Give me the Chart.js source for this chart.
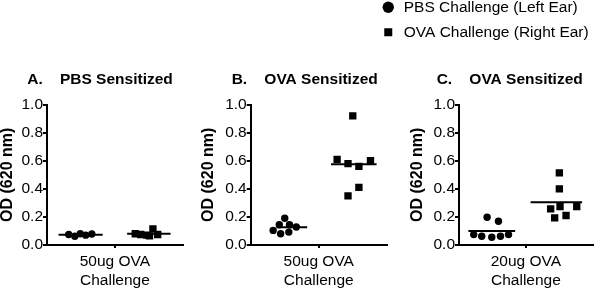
<!DOCTYPE html>
<html>
<head>
<meta charset="utf-8">
<script src="https://cdn.jsdelivr.net/npm/chart.js@4.4.1/dist/chart.umd.min.js"></script>
<style>
  body { margin: 0; background: #fff; overflow: hidden; width: 600px; height: 291px; position: relative; }
  canvas { position: absolute; }
</style>
</head>
<body>
<canvas id="legendBox" width="229" height="120" style="left:371.25px;top:-10px"></canvas>
<canvas id="panelA" width="188" height="291" style="left:0px;top:0px"></canvas>
<canvas id="panelB" width="192" height="291" style="left:200px;top:0px"></canvas>
<canvas id="panelC" width="193" height="291" style="left:405px;top:0px"></canvas>
<script>
// textos
const seriesNames = ['PBS Challenge (Left Ear)', 'OVA Challenge (Right Ear)'];
const panelTitles = ['A.    PBS Sensitized', 'B.    OVA Sensitized', 'C.    OVA Sensitized'];
const challengeLabels = [['50ug OVA', 'Challenge'], ['50ug OVA', 'Challenge'], ['20ug OVA', 'Challenge']];
const yTitle = 'OD (620 nm)';

// painel A - PBS sensibilizado
const pbsA_x = [-0.68, -0.59, -0.51, -0.43, -0.34];
const pbsA_y = [0.075, 0.062, 0.08, 0.07, 0.078];
const ovaA_x = [0.30, 0.38, 0.47, 0.51, 0.56, 0.63];
const ovaA_y = [0.08, 0.075, 0.07, 0.065, 0.115, 0.075];

// painel B - OVA sensibilizado, 50ug
const pbsB_x = [-0.67, -0.58, -0.56, -0.50, -0.44, -0.43, -0.33];
const pbsB_y = [0.104, 0.144, 0.08, 0.19, 0.092, 0.144, 0.128];
const ovaB_x = [0.27, 0.43, 0.43, 0.50, 0.59, 0.59, 0.76];
const ovaB_y = [0.61, 0.58, 0.35, 0.92, 0.56, 0.41, 0.60];

// painel C - OVA sensibilizado, 20ug
const pbsC_x = [-0.78, -0.66, -0.58, -0.51, -0.41, -0.38, -0.26];
const pbsC_y = [0.074, 0.062, 0.198, 0.055, 0.169, 0.062, 0.074];
const ovaC_x = [0.37, 0.43, 0.50, 0.50, 0.51, 0.60, 0.76];
const ovaC_y = [0.257, 0.193, 0.514, 0.40, 0.274, 0.21, 0.274];

// linhas de media e extensao de cada linha
const meanPbs = [0.073, 0.126, 0.10];
const meanOva = [0.08, 0.576, 0.305];
const spanPbs = [[-0.83, -0.18], [-0.62, -0.17], [-0.86, -0.16]];
const spanOva = [[0.18, 0.82], [0.18, 0.85], [0.07, 0.84]];

const yTicks = [0, 0.2, 0.4, 0.6, 0.8, 1.0];

Chart.defaults.font.family = "'Liberation Sans', Arial, sans-serif";
Chart.defaults.color = '#000';

const pts = (xs, ys) => xs.map((x, i) => ({ x: x, y: ys[i] }));
const seg = (span, v) => [{ x: span[0], y: v }, { x: span[1], y: v }];

// padL desloca o titulo (centralizado entre padL e a borda direita)
const panels = [
  { id: 'panelA', pbs: pts(pbsA_x, pbsA_y), ova: pts(ovaA_x, ovaA_y), padL: 12, yW: 35, yTitlePad: -12.5 },
  { id: 'panelB', pbs: pts(pbsB_x, pbsB_y), ova: pts(ovaB_x, ovaB_y), padL: 17.4, yW: 33.3, yTitlePad: -16.4 },
  { id: 'panelC', pbs: pts(pbsC_x, pbsC_y), ova: pts(ovaC_x, ovaC_y), padL: 16.4, yW: 37.6, yTitlePad: -11.9 }
];

panels.forEach((p, i) => {
  new Chart(document.getElementById(p.id), {
    type: 'scatter',
    data: {
      datasets: [
        { label: seriesNames[0], data: p.pbs, pointStyle: 'circle', pointRadius: 3.7, backgroundColor: '#000', borderColor: '#000', borderWidth: 0 },
        { label: seriesNames[1], data: p.ova, pointStyle: 'rect', pointRadius: 5.2, backgroundColor: '#000', borderColor: '#000', borderWidth: 0 },
        { label: 'mediaPbs', data: seg(spanPbs[i], meanPbs[i]), showLine: true, pointRadius: 0, borderColor: '#000', borderWidth: 2 },
        { label: 'mediaOva', data: seg(spanOva[i], meanOva[i]), showLine: true, pointRadius: 0, borderColor: '#000', borderWidth: 2 }
      ]
    },
    options: {
      responsive: false,
      animation: false,
      layout: { padding: { left: p.padL, right: 0, top: 0, bottom: 0 } },
      plugins: {
        legend: { display: false },
        tooltip: { enabled: false },
        title: {
          display: true,
          text: panelTitles[i],
          color: '#000',
          font: { size: 15.5, weight: 'bold', lineHeight: 1.2 },
          padding: { top: 70, bottom: 16 }
        }
      },
      scales: {
        x: {
          type: 'linear',
          min: -1, max: 1,
          afterBuildTicks: s => { s.ticks = [{ value: 0 }]; },
          afterFit: s => { s.height = 46; },
          ticks: { callback: () => challengeLabels[i], font: { size: 15.5, lineHeight: 1.25 }, color: '#000', padding: 4, maxRotation: 0 },
          grid: { display: true, drawOnChartArea: false, drawTicks: true, tickLength: 3, color: '#000', lineWidth: 2 },
          border: { display: true, color: '#000', width: 2 }
        },
        y: {
          min: 0, max: 1,
          afterBuildTicks: s => { s.ticks = yTicks.map(v => ({ value: v })); },
          afterFit: s => { s.width = p.yW; },
          ticks: { callback: v => v.toFixed(1), font: { size: 15.5 }, color: '#000', padding: 0 },
          grid: { display: true, drawOnChartArea: false, drawTicks: true, tickLength: 4, color: '#000', lineWidth: 2 },
          border: { display: true, color: '#000', width: 2 },
          title: { display: true, text: yTitle, color: '#000', font: { size: 16, weight: 'bold', lineHeight: 1 }, padding: { top: p.yTitlePad, bottom: 0 } }
        }
      }
    }
  });
});

// legenda compartilhada
new Chart(document.getElementById('legendBox'), {
  type: 'scatter',
  data: {
    datasets: [
      { label: seriesNames[0], data: [], pointStyle: 'circle', backgroundColor: '#000', borderColor: '#000', borderWidth: 0 },
      { label: seriesNames[1], data: [], pointStyle: 'rect', backgroundColor: '#000', borderColor: '#000', borderWidth: 0 }
    ]
  },
  options: {
    responsive: false,
    animation: false,
    layout: { padding: 0 },
    scales: { x: { display: false }, y: { display: false } },
    plugins: {
      tooltip: { enabled: false },
      legend: {
        display: true,
        position: 'top',
        align: 'start',
        onClick: null,
        labels: { usePointStyle: true, boxWidth: 16, boxHeight: 8, padding: 9.5, color: '#000', font: { size: 15.5 } }
      }
    }
  }
});
</script>
</body>
</html>
